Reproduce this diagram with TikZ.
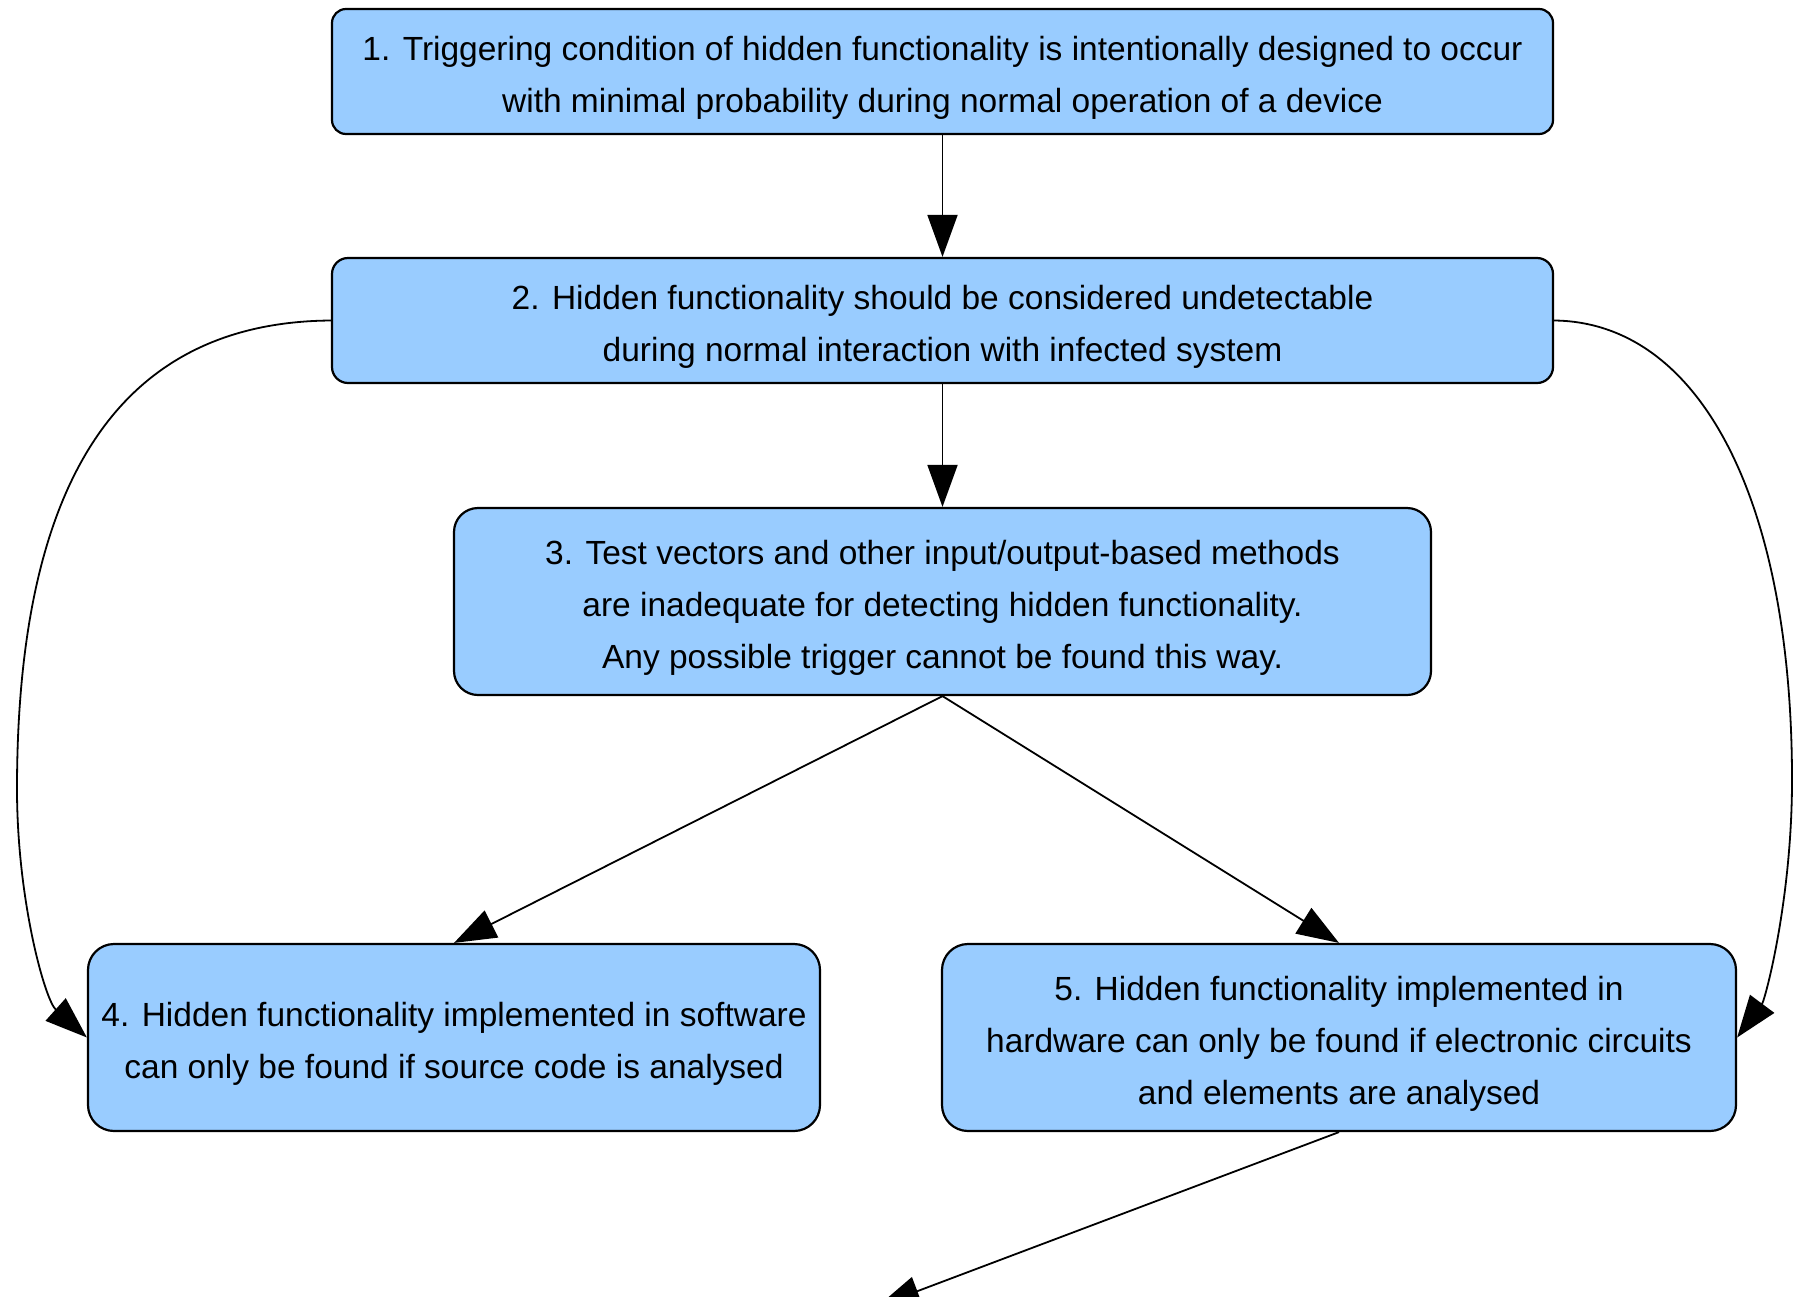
\documentclass[tikz,border=0pt]{standalone}
\usepackage{fontspec}
\setmainfont{Liberation Sans}
\usetikzlibrary{arrows.meta}
\definecolor{boxblue}{HTML}{99CCFF}
\newcommand{\topstrut}{\rule{0pt}{37pt}}
\begin{document}
\begin{tikzpicture}[x=1pt,y=-1pt,
  box/.style={draw=black, line width=2.2pt, fill=boxblue, align=center, inner sep=0pt,
    font=\fontsize{33.5}{52}\selectfont},
  conn/.style={line width=1.8pt, -{Triangle[length=42pt,width=30pt]}}]
\useasboundingbox (0,0) rectangle (1793,1296);
\clip (0,0) rectangle (1793,1296);
\node[box, rounded corners=14pt, minimum width=1221pt, minimum height=125pt] (b1) at (942.5,71.5)
  {\topstrut 1. Triggering condition of hidden functionality is intentionally designed to occur\\with minimal probability during normal operation of a device};
\node[box, rounded corners=16pt, minimum width=1221pt, minimum height=125pt] (b2) at (942.5,320.5)
  {\topstrut 2. Hidden functionality should be considered undetectable\\during normal interaction with infected system};
\node[box, rounded corners=24pt, minimum width=977pt, minimum height=187pt] (b3) at (942.5,601.5)
  {\topstrut 3. Test vectors and other input/output-based methods\\are inadequate for detecting hidden functionality.\\Any possible trigger cannot be found this way.};
\node[box, rounded corners=26pt, minimum width=732pt, minimum height=187pt] (b4) at (454,1037.5)
  {\topstrut 4. Hidden functionality implemented in software\\can only be found if source code is analysed};
\node[box, rounded corners=26pt, minimum width=794pt, minimum height=187pt] (b5) at (1339,1037.5)
  {\topstrut 5. Hidden functionality implemented in\\hardware can only be found if electronic circuits\\and elements are analysed};
\coordinate (offpage) at (878,1306);
\draw[conn] (b1.south) -- (b2.north);
\draw[conn] (b2.south) -- (b3.north);
\draw[conn] (b3.south) -- (b4.north);
\draw[conn] (b3.south) -- (b5.north);
\draw[conn] (b5.south) -- (offpage);
\draw[conn] (b2.west) .. controls (120,322) and (17,480) .. (17,789)
  .. controls (17,900) and (45,1000) .. (b4.west);
\draw[conn] (b2.east) .. controls (1700,322) and (1792,500) .. (1792,780)
  .. controls (1792,900) and (1765,1000) .. (b5.east);
\end{tikzpicture}
\end{document}
